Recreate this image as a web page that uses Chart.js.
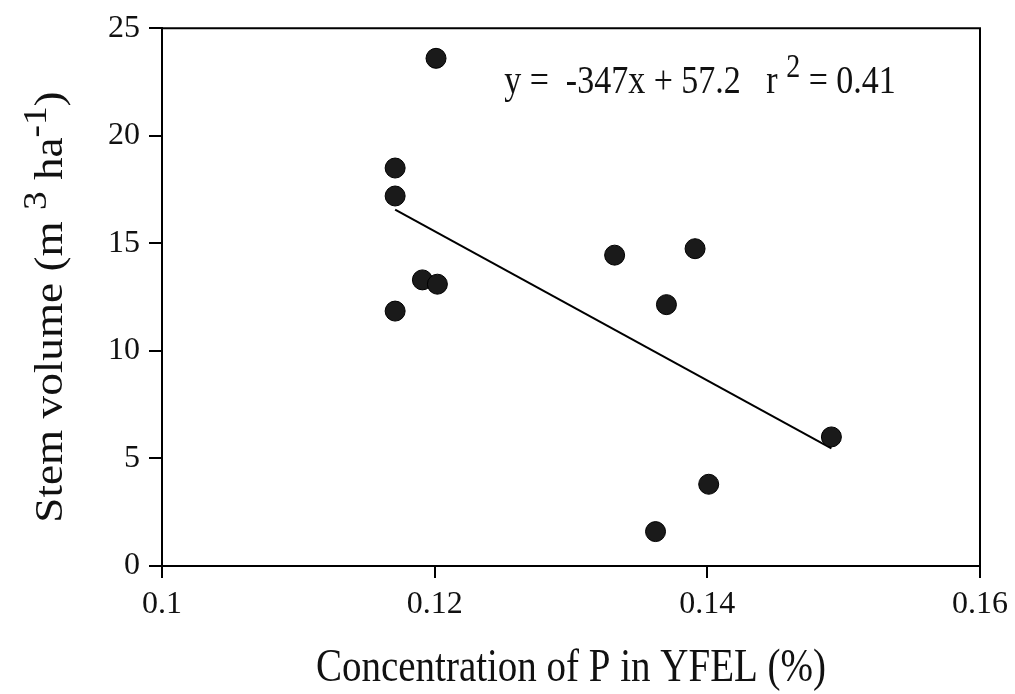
<!DOCTYPE html>
<html>
<head>
<meta charset="utf-8">
<script src="https://cdn.jsdelivr.net/npm/chart.js@4/dist/chart.umd.min.js"></script>
<style>
html,body{margin:0;padding:0;background:#fff;}
canvas{display:block;}
</style>
</head>
<body>
<canvas id="c" width="1015" height="694"></canvas>
<script>
const pConc = [0.1201, 0.1171, 0.1171, 0.1171, 0.1191, 0.1202, 0.1332, 0.1391, 0.1370, 0.1491, 0.1401, 0.1362];
const stemVol = [23.6, 18.5, 17.2, 11.85, 13.3, 13.1, 14.45, 14.75, 12.15, 6.0, 3.8, 1.6];
const xTicks = [0.1, 0.12, 0.14, 0.16];
const yTicks = [0, 5, 10, 15, 20, 25];
const slope = -347;
const intercept = 57.2;
const r2 = 0.41;
const xTitle = 'Concentration of P in YFEL (%)';
const yTitleParts = [['Stem volume (m', false], [' ', false], ['3', true], [' ha', false], ['-1', true], [')', false]];

const FONT = '"Liberation Serif", "Times New Roman", serif';
const STRETCH = 1.18;
const xMin = Math.min(...pConc), xMax = Math.max(...pConc);
const trend = [xMin, xMax].map(x => ({x: x, y: slope * x + intercept}));
const pts = pConc.map((x, i) => ({x: x, y: stemVol[i]}));

const boxPlugin = {
  id: 'box',
  afterDraw(chart) {
    const {ctx, chartArea: a} = chart;
    ctx.save();
    ctx.strokeStyle = '#000';
    ctx.lineWidth = 2;
    ctx.beginPath();
    ctx.moveTo(a.left, a.top); ctx.lineTo(a.right, a.top); ctx.lineTo(a.right, a.bottom);
    ctx.stroke();
    ctx.restore();

    const xs = chart.scales.x, ys = chart.scales.y;
    ctx.fillStyle = '#111';
    ctx.textBaseline = 'alphabetic';

    // equation text
    ctx.save();
    ctx.translate(xs.getPixelForValue(0.1251), ys.getPixelForValue(22.0));
    ctx.scale(1, STRETCH);
    let tx = 0;
    ctx.font = '34px ' + FONT;
    const part1 = 'y =  ' + slope + 'x + ' + intercept.toFixed(1) + '   r ';
    ctx.fillText(part1, tx, 0);
    tx += ctx.measureText(part1).width;
    ctx.font = '28px ' + FONT;
    ctx.fillText('2', tx, -13);
    tx += ctx.measureText('2').width;
    ctx.font = '34px ' + FONT;
    ctx.fillText(' = ' + r2.toFixed(2), tx, 0);
    ctx.restore();

    // x title
    ctx.save();
    ctx.font = '39px ' + FONT;
    ctx.textAlign = 'center';
    ctx.translate((a.left + a.right) / 2, 681);
    ctx.scale(1, STRETCH);
    ctx.fillText(xTitle, 0, 0);
    ctx.restore();

    // y title with superscripts
    ctx.save();
    const mainF = '40px ' + FONT, supF = '33px ' + FONT;
    let total = 0;
    yTitleParts.forEach(([t, sup]) => { ctx.font = sup ? supF : mainF; total += ctx.measureText(t).width; });
    ctx.translate(62, 307);
    ctx.rotate(-Math.PI / 2);
    ctx.scale(1.13, 1);
    let px = -total / 2;
    yTitleParts.forEach(([t, sup]) => {
      ctx.font = sup ? supF : mainF;
      ctx.fillText(t, px, sup ? -16 : 0);
      px += ctx.measureText(t).width;
    });
    ctx.restore();
  }
};

new Chart(document.getElementById('c'), {
  type: 'scatter',
  data: {
    datasets: [
      {
        data: pts,
        pointRadius: 10,
        pointHoverRadius: 10,
        backgroundColor: '#1a1a1a',
        borderColor: '#000',
        borderWidth: 1,
        showLine: false,
        order: 1
      },
      {
        type: 'line',
        data: trend,
        showLine: true,
        pointRadius: 0,
        borderColor: '#000',
        borderWidth: 2,
        fill: false,
        order: 2
      }
    ]
  },
  options: {
    responsive: false,
    animation: false,
    events: [],
    layout: {padding: {left: 0, top: 25, right: 34, bottom: 0}},
    plugins: {legend: {display: false}, tooltip: {enabled: false}},
    scales: {
      x: {
        type: 'linear',
        min: 0.1, max: 0.16,
        afterBuildTicks: s => { s.ticks = xTicks.map(v => ({value: v})); },
        afterFit: s => { s.height = 694 - 566; },
        ticks: {
          color: '#111',
          font: {family: FONT, size: 32},
          padding: 7,
          maxRotation: 0,
          callback: v => String(v)
        },
        grid: {drawOnChartArea: false, drawTicks: true, tickLength: 12, color: '#000', lineWidth: 2},
        border: {display: true, color: '#000', width: 2}
      },
      y: {
        type: 'linear',
        min: 0, max: 25,
        afterBuildTicks: s => { s.ticks = yTicks.map(v => ({value: v})); },
        afterFit: s => { s.width = 162; },
        ticks: {
          color: '#111',
          font: {family: FONT, size: 32},
          padding: 9,
          callback: v => String(v)
        },
        grid: {drawOnChartArea: false, drawTicks: true, tickLength: 13, color: '#000', lineWidth: 2},
        border: {display: true, color: '#000', width: 2}
      }
    }
  },
  plugins: [boxPlugin]
});
</script>
</body>
</html>
